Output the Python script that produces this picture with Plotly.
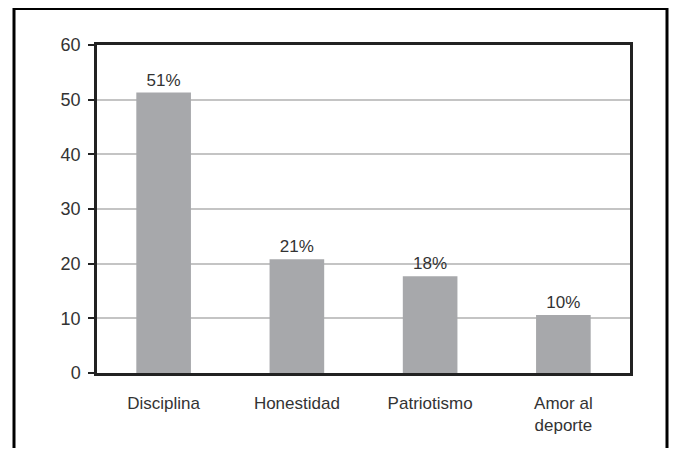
import plotly.graph_objects as go

categories = ["Disciplina", "Honestidad", "Patriotismo", "Amor al<br>deporte"]
values = [51.3, 20.8, 17.7, 10.6]
labels = ["51%", "21%", "18%", "10%"]
y_ticks = [0, 10, 20, 30, 40, 50, 60]

# page body has an 8px margin, so the figure is drawn 8px in from the window edge
W, H = 661, 440
L, R, T, B = 89, 39, 37, 75
pw, ph = W - L - R, H - T - B

fig = go.Figure()
fig.add_trace(go.Bar(
    x=categories, y=values, text=labels, textposition="outside",
    textfont=dict(size=17, color="#333333"), cliponaxis=False,
    marker=dict(color="#a7a8ab", line=dict(width=0)), width=0.41,
))

def px_x(x):
    return (x - L) / pw

def px_y(y):
    return (H - B - y) / ph

fig.add_shape(type="rect", xref="paper", yref="paper",
              x0=px_x(6), x1=px_x(659), y0=px_y(470), y1=px_y(0.5),
              line=dict(color="black", width=3), layer="below")

fig.update_layout(
    width=W, height=H, margin=dict(l=L, r=R, t=T, b=B, autoexpand=False),
    paper_bgcolor="white", plot_bgcolor="white", showlegend=False,
    font=dict(family="Liberation Sans, Arial, sans-serif", size=17, color="#333333"),
    bargap=0.59,
)
fig.update_xaxes(showline=True, linecolor="#222222", linewidth=2.5, mirror=True,
                 automargin=False,
                 ticks="", tickfont=dict(size=17, color="#333333"), ticklabelstandoff=13)
fig.update_yaxes(range=[0, 60], tickvals=y_ticks, showline=True, linecolor="#222222",
                 linewidth=2.5, mirror=True, ticks="outside", ticklen=6, tickwidth=2,
                 automargin=False,
                 tickcolor="#222222", showgrid=True, gridcolor="#c4c4c4", gridwidth=1.5,
                 zeroline=False, tickfont=dict(size=18, color="#333333"), ticklabelstandoff=4)
fig.write_html("out.html")
